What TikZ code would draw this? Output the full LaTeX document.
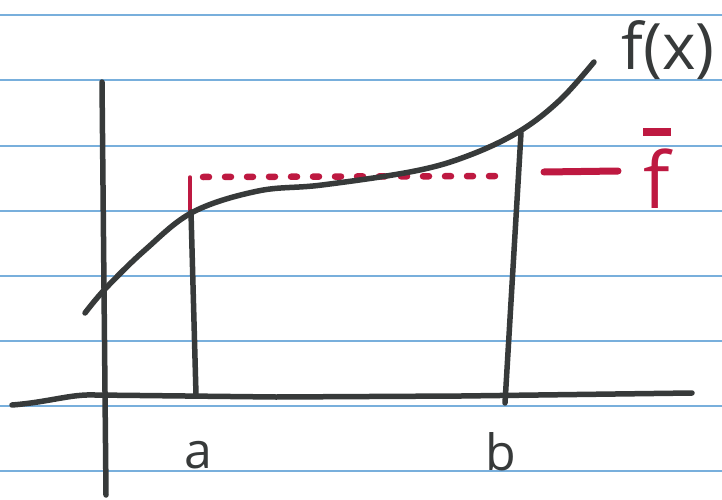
\documentclass[tikz,border=0pt]{standalone}
\usepackage{fontspec}
\setmainfont{Open Sans}
\definecolor{ink}{RGB}{55,58,58}
\definecolor{redink}{RGB}{190,25,65}
\definecolor{rule}{RGB}{120,175,220}
\tikzset{
  paperline/.style={draw=rule, line width=2.2pt},
  pen/.style={draw=ink, line width=5.5pt, line cap=round, line join=round},
  redpen/.style={draw=redink, line width=5.5pt, line cap=round},
  reddots/.style={draw=redink, line width=6.5pt, line cap=round, dash pattern=on 6pt off 16pt},
  lbl/.style={inner sep=0pt, text=ink, font=\fontsize{50}{50}\selectfont},
}
\begin{document}
\begin{tikzpicture}[x=1pt,y=-1pt]
\useasboundingbox[fill=white] (0,0) rectangle (722,500);
% ruled paper
\foreach \yy in {15,80,146,211,276,341,406,471}
  \draw[paperline] (0,\yy) -- (722,\yy);
% axes
\coordinate (yb) at (106,495);
\coordinate (yt) at (102,82);
\draw[pen] (yb) -- (yt);
\coordinate (xl) at (12,405);
\coordinate (xr) at (692,393);
\draw[pen] (xl) .. controls (50,402) and (70,394) .. (95,395) -- (276,397) -- (461,396) -- (xr);
% red average line
\coordinate (ra) at (190,177);
\coordinate (rb) at (510,176);
\draw[reddots] (203,177) -- (rb);
\draw[redpen, line width=3.5pt] (190,210) -- (ra);
% curve
\draw[pen] plot[smooth, tension=0.6] coordinates {(85,313) (106,288) (145,250) (193,212) (258,191) (322,185) (415,171) (470,155) (520,131) (560,100) (594,62)};
% verticals at a and b
\coordinate (at) at (191,212);
\coordinate (ab) at (196,395);
\draw[pen] (at) -- (ab);
\coordinate (bt) at (521,133);
\coordinate (bb) at (505,403);
\draw[pen] (bt) -- (bb);
% red dash and f-bar label
\coordinate (d1) at (544,172);
\coordinate (d2) at (618,171);
\draw[redpen, line width=7pt] (d1) -- (d2);
\node[lbl, text=redink, font=\fontsize{78}{78}\selectfont, align=center] (fbar) at (657,168)
  {\rule{28pt}{8pt}\\[-6pt]f};
% labels
\node[lbl, font=\fontsize{64}{64}\selectfont] (fx) at (668,50) {f(x)};
\node[lbl] (a) at (198,455) {a};
\node[lbl] (b) at (501,452) {b};
\end{tikzpicture}
\end{document}
